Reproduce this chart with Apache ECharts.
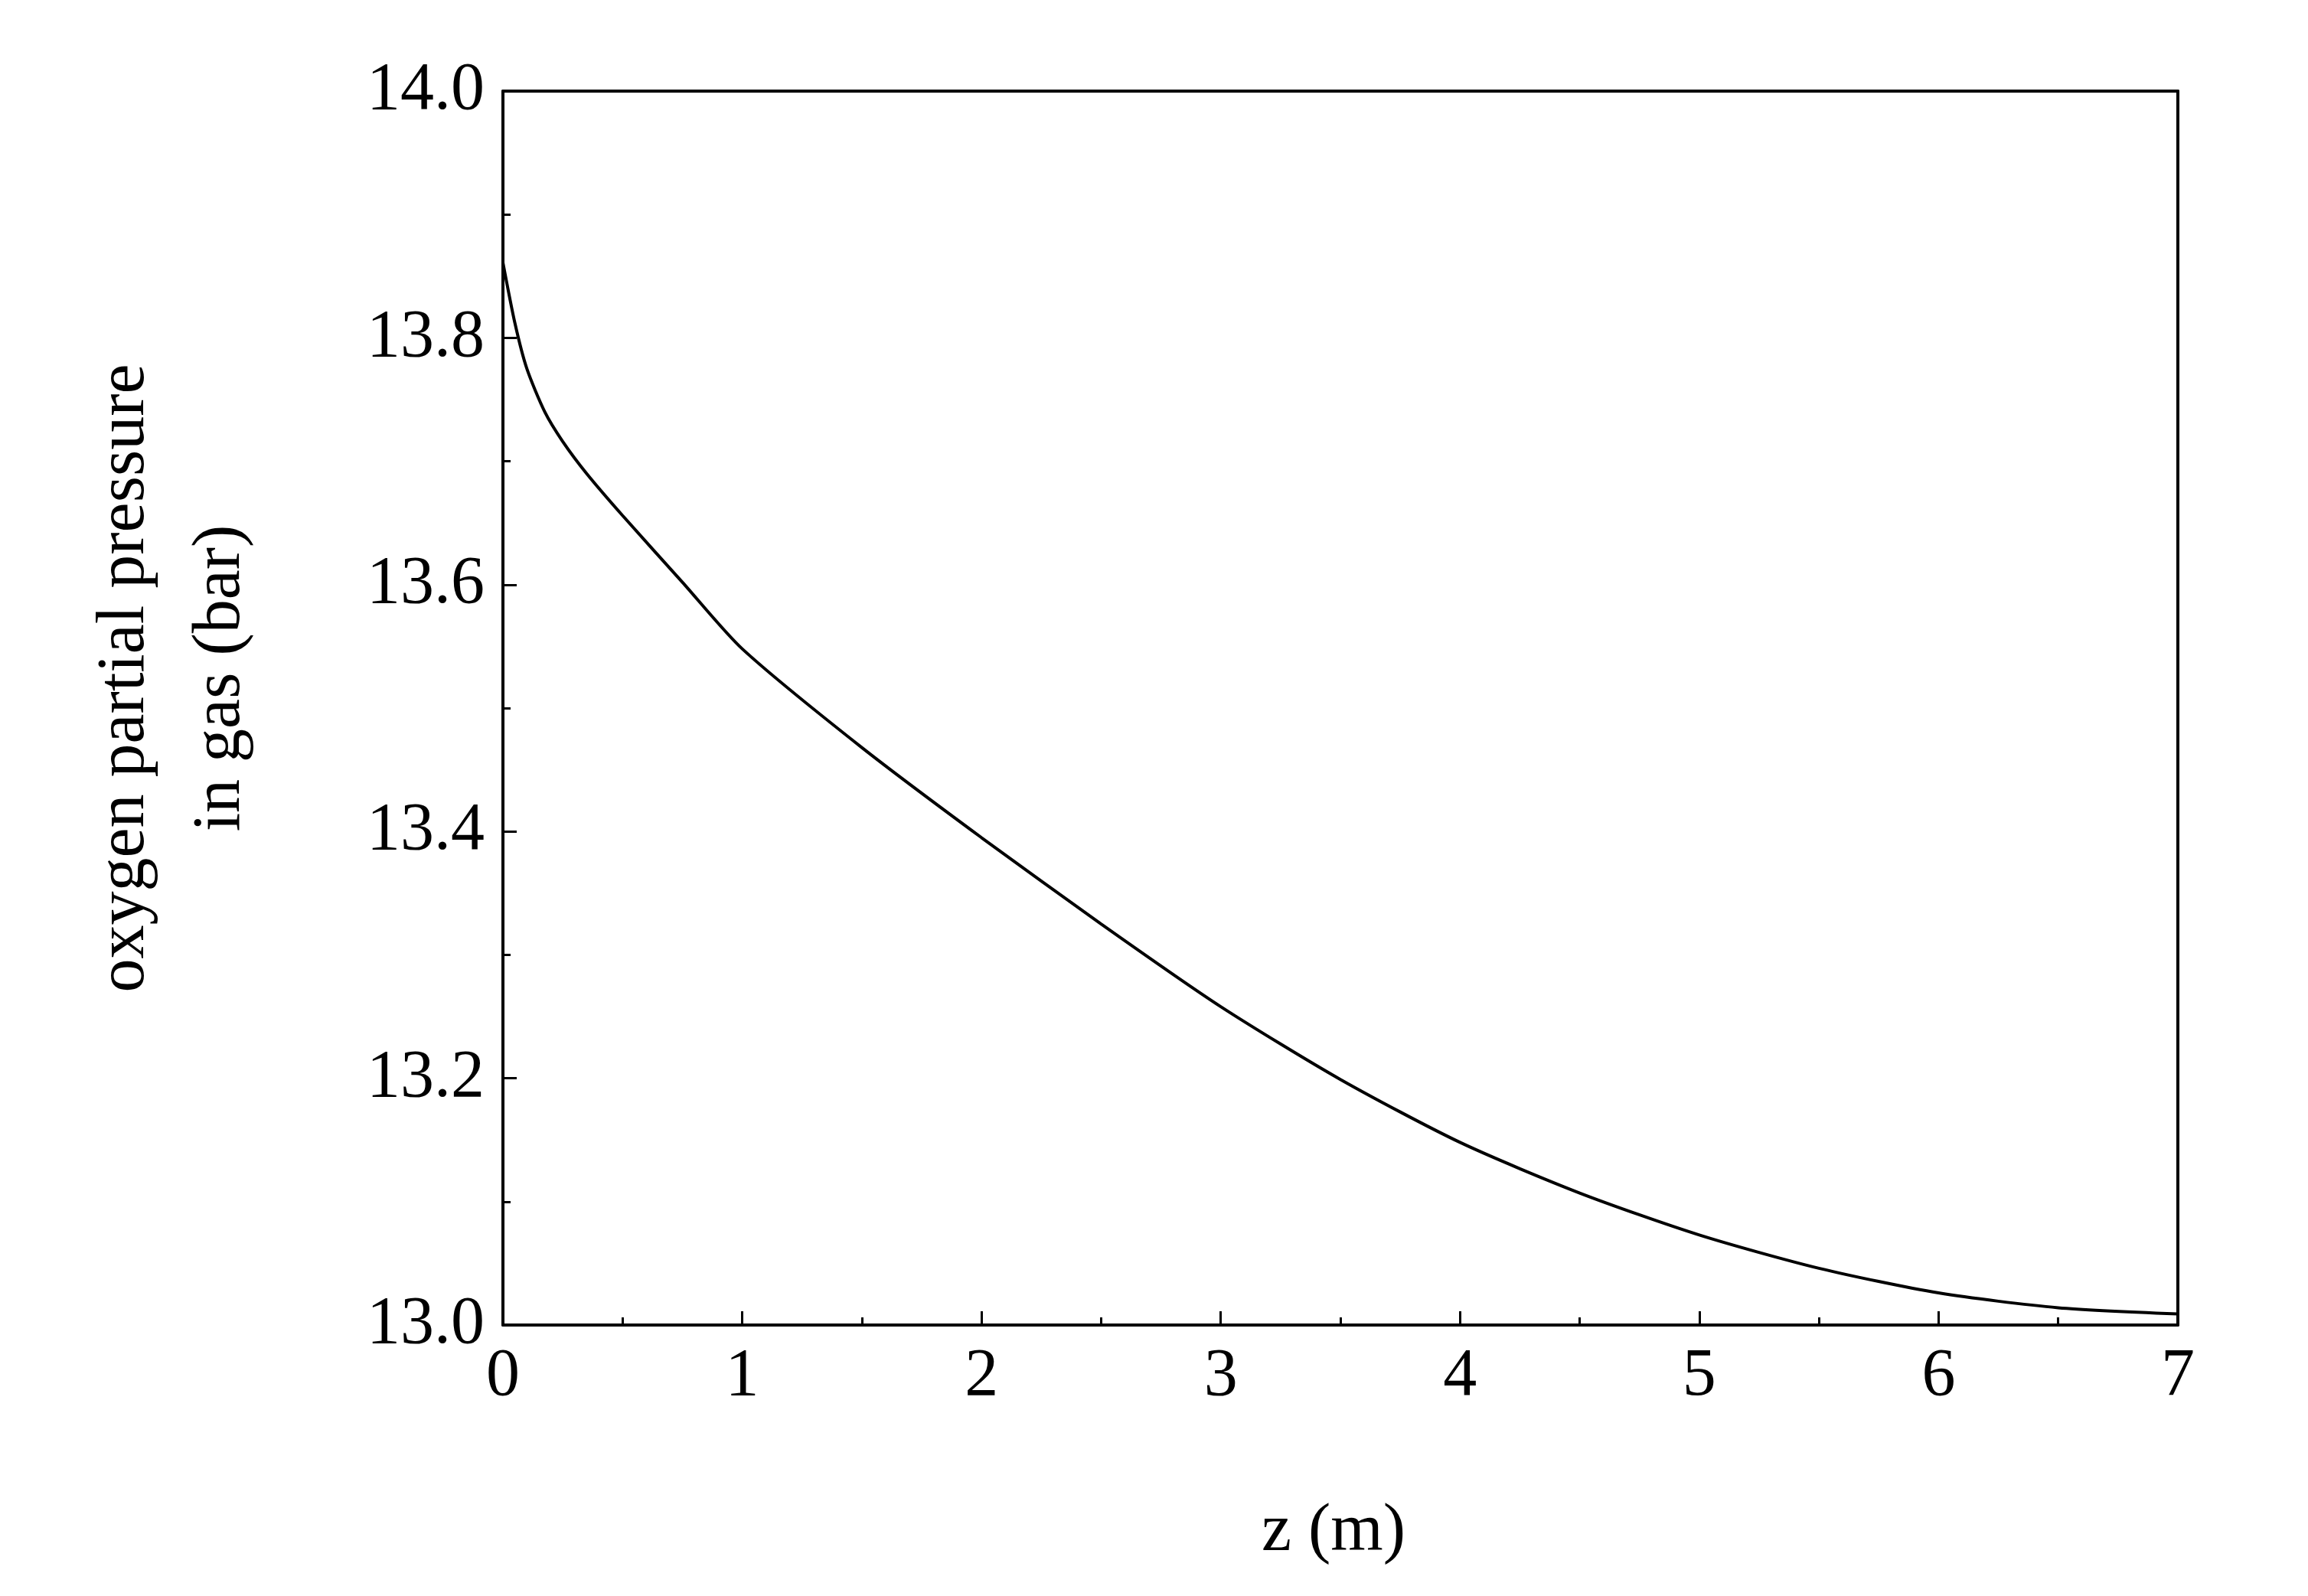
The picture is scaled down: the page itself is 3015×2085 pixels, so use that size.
<!DOCTYPE html>
<html><head><meta charset="utf-8">
<script src="https://cdn.jsdelivr.net/npm/echarts@6/dist/echarts.min.js"></script>
<style>html,body{margin:0;background:#fff}#c{width:3015px;height:2085px}</style>
</head><body><div id="c"></div>
<script>
// z (m) vs oxygen partial pressure (bar)
const zValues = [0, 0.05, 0.1, 0.175, 0.25, 0.35, 0.5, 0.75, 1, 1.5, 2, 2.5, 3, 3.5, 4, 4.5, 5, 5.5, 6, 6.5, 7];
const pValues = [13.861, 13.812, 13.775, 13.74, 13.716, 13.69, 13.656, 13.602, 13.548, 13.468, 13.395, 13.325, 13.258, 13.199, 13.148, 13.107, 13.073, 13.046, 13.026, 13.014, 13.009];
const font = "'Liberation Serif', 'Times New Roman', serif";

let chart = echarts.init(document.getElementById('c'));
let axisCommon = {
    axisLine: {show: true, lineStyle: {color: '#000', width: 4}},
    axisTick: {inside: true, length: 18, lineStyle: {color: '#000', width: 3}},
    minorTick: {show: true, splitNumber: 2, length: 10, lineStyle: {color: '#000', width: 3}},
    splitLine: {show: false},
    axisLabel: {color: '#000', fontFamily: font, fontSize: 88, margin: 24}
};
let frame = {type: 'value', min: 0, max: 7, axisLine: {show: true, onZero: false, lineStyle: {color: '#000', width: 4}},
    axisTick: {show: false}, axisLabel: {show: false}, splitLine: {show: false}};
chart.setOption({
    animation: false,
    grid: {left: 657, right: 170, top: 119, bottom: 354},
    xAxis: [
        Object.assign({type: 'value', min: 0, max: 7, interval: 1}, axisCommon),
        Object.assign({}, frame, {position: 'top'})
    ],
    yAxis: [
        Object.assign({}, axisCommon, {type: 'value', min: 13.0, max: 14.0, interval: 0.2,
            axisLabel: Object.assign({}, axisCommon.axisLabel, {formatter: v => v.toFixed(1)})}),
        Object.assign({}, frame, {min: 13, max: 14, position: 'right'})
    ],
    series: [{
        type: 'line', smooth: 0.25, showSymbol: false,
        lineStyle: {color: '#000', width: 4},
        data: zValues.map((z, i) => [z, pValues[i]])
    }],
    graphic: [
        {type: 'text', x: 1742, y: 2002, style: {text: 'z (m)', font: '88px ' + font, fill: '#000', align: 'center', verticalAlign: 'middle'}},
        {type: 'text', x: 226, y: 886, rotation: Math.PI / 2, style: {text: 'oxygen partial pressure\nin gas (bar)', font: '88px ' + font, fill: '#000', align: 'center', verticalAlign: 'middle', lineHeight: 125}}
    ]
});
</script></body></html>
